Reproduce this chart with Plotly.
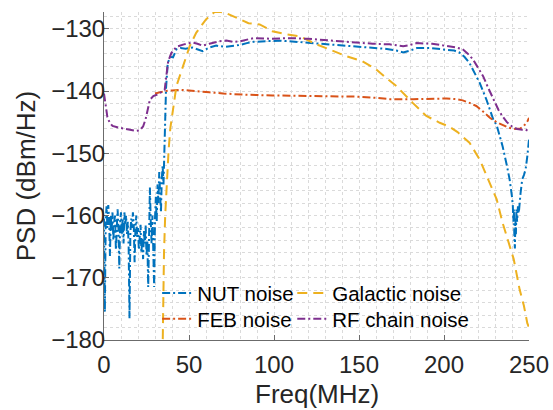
import plotly.graph_objects as go

# ---------------- data ----------------
nut_freq = [
    0.0, 0.5, 1.0, 1.5, 2.0, 2.5, 3.0, 3.5, 4.0, 4.5, 5.0, 5.5, 6.0, 6.5, 7.0, 7.5,
    8.0, 8.5, 9.0, 9.5, 10.0, 10.5, 11.0, 11.5, 12.0, 12.5, 13.0, 13.5, 14.0, 14.5,
    15.0, 15.5, 16.0, 16.5, 17.0, 17.5, 18.0, 18.5, 19.0, 19.5, 20.0, 20.5, 21.0,
    21.5, 22.0, 22.5, 23.0, 23.5, 24.0, 24.5, 25.0, 25.5, 26.0, 26.5, 27.0, 27.5,
    28.0, 28.5, 29.0, 29.5, 30.0, 30.5, 31.0, 31.5, 32.0, 32.5, 33.0, 33.5, 34.0,
    34.5, 35.0, 35.5, 36.0, 36.5, 37.5, 39.0, 40.6, 42.6, 45, 48, 52, 55, 58, 62,
    66, 71, 76, 80, 84, 88, 95, 103, 109, 118, 129, 140, 148, 158, 165, 172, 176,
    180, 184, 192, 201, 206, 209, 212, 215, 218, 221, 225, 229, 231, 234.5, 237,
    238.6, 240, 240.5, 240.8, 241.1, 241.4, 241.7, 242.0, 242.3, 242.6, 243.0,
    243.5, 244, 245, 246, 247, 248, 249, 250,
]
nut_psd = [
    -160.5, -175.5, -161.0, -158.5, -162.0, -158.3, -160.5, -166.5, -160.0, -162.5,
    -159.5, -164.0, -161.0, -160.0, -165.5, -160.5, -159.0, -162.0, -168.5, -161.0,
    -159.5, -163.0, -160.5, -164.5, -159.5, -161.5, -160.0, -163.0, -161.0, -165.0,
    -176.5, -163.0, -160.5, -162.0, -159.5, -161.5, -167.5, -162.0, -160.0, -163.5,
    -162.0, -165.5, -163.0, -161.5, -166.0, -163.5, -167.0, -162.5, -164.5, -161.5,
    -166.5, -164.0, -171.5, -162.0, -155.5, -161.0, -164.5, -160.0, -165.0, -171.5,
    -160.5, -157.0, -161.0, -155.0, -158.0, -153.0, -156.5, -159.5, -154.0, -152.0,
    -155.0, -151.0, -145.0, -139.5, -135.5, -134.5, -134.6, -133.3, -133.1, -133.2,
    -133.0, -133.3, -133.6, -133.0, -132.7, -132.9, -132.8, -132.6, -132.3, -132.1,
    -132.0, -131.9, -132.0, -132.2, -132.4, -132.6, -132.8, -133.0, -133.2, -133.5,
    -133.8, -133.5, -133.1, -133.1, -133.3, -133.5, -133.8, -134.5, -135.5, -137.0,
    -138.7, -141.4, -144.6, -145.5, -148.9, -152.0, -154.2, -157.0, -158.5, -161.0,
    -159.0, -163.5, -165.3, -160.5, -163.0, -159.0, -161.0, -158.5, -159.6, -156.5,
    -154.2, -153.5, -152.6, -150.5, -147.8,
]

feb_freq = [30, 33, 36, 40, 45, 50, 56, 62, 70, 76, 84, 99, 115, 129, 148.6, 160,
            168, 182, 195, 201.6, 207, 211, 215, 219, 223, 227, 231, 234.5, 238,
            242, 245, 247, 249, 250]
feb_psd = [-140.4, -140.2, -140.0, -139.9, -139.8, -139.9, -140.0, -140.2, -140.4,
           -140.5, -140.6, -140.7, -140.75, -140.8, -140.9, -141.1, -141.3, -141.3,
           -141.2, -141.2, -141.3, -141.5, -141.9, -142.4, -143.3, -144.3, -145.0,
           -145.5, -145.9, -146.1, -146.0, -145.6, -144.9, -144.3]

gal_freq = [34.3, 34.7, 35.3, 36.0, 37.0, 38.0, 39.0, 40.5, 42.6, 46.5, 50.4, 54.3,
            60, 65, 68, 72, 76, 80, 85, 91.6, 99, 107.5, 115, 125, 134.7, 142.6,
            152, 160, 166, 172, 181.6, 189.6, 197.5, 203, 208, 215, 221, 227, 231,
            234.5, 238.6, 241, 244.5, 247, 249, 250]
gal_psd = [-185, -174, -166, -160, -154.5, -149.5, -146, -142.8, -139.2, -136,
           -132.8, -130.6, -128.5, -127.3, -127.25, -127.5, -128.0, -128.5, -129.1,
           -129.3, -130.4, -130.9, -131.2, -132.5, -133.6, -134.4, -135.2, -136.5,
           -137.9, -139.2, -141.9, -144.0, -145.1, -145.7, -146.6, -148.3, -151.0,
           -154.7, -157.4, -161.2, -165.0, -167.0, -171.9, -174.5, -177.3, -178.0]

rf_freq = [0, 1, 2, 3.4, 5, 9, 14, 19, 21, 23, 24.5, 26, 27, 29, 31, 33.5, 35.7,
           36.7, 37.7, 39.6, 42.6, 47, 52, 55, 58, 62, 68, 72, 76, 80, 88, 99, 109,
           120, 129, 140, 148.6, 158, 168, 172, 176, 180, 184, 193, 201.6, 207, 211,
           214, 217, 220, 223, 226, 229, 232, 234.5, 237, 240, 243, 246, 248, 250]
rf_psd = [-140.4, -142.5, -144.2, -145.1, -145.6, -145.9, -146.2, -146.4, -146.3,
          -145.7, -144.5, -142.5, -141.4, -140.8, -140.6, -140.2, -139.8, -137.5,
          -135.3, -133.9, -132.9, -132.5, -132.2, -132.4, -132.7, -132.4, -132.0,
          -131.9, -132.1, -132.0, -131.5, -131.6, -131.5, -131.6, -131.8, -132.1,
          -132.3, -132.4, -132.5, -132.6, -132.8, -132.6, -132.3, -132.4, -132.7,
          -133.0, -133.3, -134.0, -134.9, -136.2, -137.6, -139.5, -141.4, -143.0,
          -144.1, -145.0, -145.7, -146.1, -146.2, -146.2, -146.5]

x_ticks = [0, 50, 100, 150, 200, 250]
y_ticks = [-180, -170, -160, -150, -140, -130]
x_title = "Freq(MHz)"
y_title = "PSD (dBm/Hz)"

# ---------------- figure ----------------
FONT = "Liberation Sans, Arial, Helvetica, sans-serif"
DASHDOT = "8px,3px,2px,3px"
DASH = "10px,6px"

fig = go.Figure()
fig.add_trace(go.Scatter(x=nut_freq, y=nut_psd, mode="lines", name="NUT noise",
                         line=dict(color="#0072BD", width=2, dash=DASHDOT),
                         legend="legend"))
fig.add_trace(go.Scatter(x=feb_freq, y=feb_psd, mode="lines", name="FEB noise",
                         line=dict(color="#D95319", width=2, dash=DASHDOT),
                         legend="legend2"))
fig.add_trace(go.Scatter(x=gal_freq, y=gal_psd, mode="lines", name="Galactic noise",
                         line=dict(color="#EDB120", width=2, dash=DASH),
                         legend="legend3"))
fig.add_trace(go.Scatter(x=rf_freq, y=rf_psd, mode="lines", name="RF chain noise",
                         line=dict(color="#7E2F8E", width=2, dash=DASHDOT),
                         legend="legend4"))

legend_common = dict(orientation="v", bgcolor="rgba(0,0,0,0)", borderwidth=0,
                     font=dict(family=FONT, size=20.5, color="#000000"),
                     itemwidth=30, xanchor="left", yanchor="middle")
COL1_X, COL2_X = 0.125, 0.443
ROW1_Y, ROW2_Y = 0.143, 0.064
fig.update_layout(
    width=553, height=410,
    margin=dict(l=104, r=24, t=12, b=70, autoexpand=False),
    paper_bgcolor="white", plot_bgcolor="white",
    font=dict(family=FONT, color="#262626"),
    showlegend=True,
    legend=dict(x=COL1_X, y=ROW1_Y, **legend_common),
    legend2=dict(x=COL1_X, y=ROW2_Y, **legend_common),
    legend3=dict(x=COL2_X, y=ROW1_Y, **legend_common),
    legend4=dict(x=COL2_X, y=ROW2_Y, **legend_common),
    annotations=[dict(text=x_title, xref="paper", yref="paper", x=0.5, y=-0.165,
                      xanchor="center", yanchor="middle", showarrow=False,
                      font=dict(family=FONT, size=26, color="#262626"))],
)
grid_common = dict(showgrid=True, gridcolor="#dadada", gridwidth=1, griddash="dot",
                   zeroline=False, showline=True, linecolor="#6b6b6b", linewidth=1,
                   ticks="inside", ticklen=5, tickcolor="#6b6b6b", automargin=False,
                   tickfont=dict(family=FONT, size=24, color="#262626"))
fig.update_xaxes(range=[0, 250], tickvals=x_ticks, ticktext=[str(v) for v in x_ticks],
                 minor=dict(dtick=10, tick0=0, showgrid=True, gridcolor="#dadada",
                            griddash="dot", ticks=""),
                 ticklabelstandoff=3,
                 **grid_common)
fig.update_yaxes(range=[-180, -127.3], tickvals=y_ticks,
                 ticktext=[str(v).replace("-", "\u2212") for v in y_ticks],
                 minor=dict(dtick=2, tick0=-180, showgrid=True, gridcolor="#dadada",
                            griddash="dot", ticks=""),
                 ticklabelstandoff=-7,
                 title=dict(text=y_title, font=dict(family=FONT, size=26, color="#262626"),
                            standoff=8),
                 **grid_common)

fig.write_html("out.html", config={"displayModeBar": False},
               post_script="document.body.style.margin='0';")
